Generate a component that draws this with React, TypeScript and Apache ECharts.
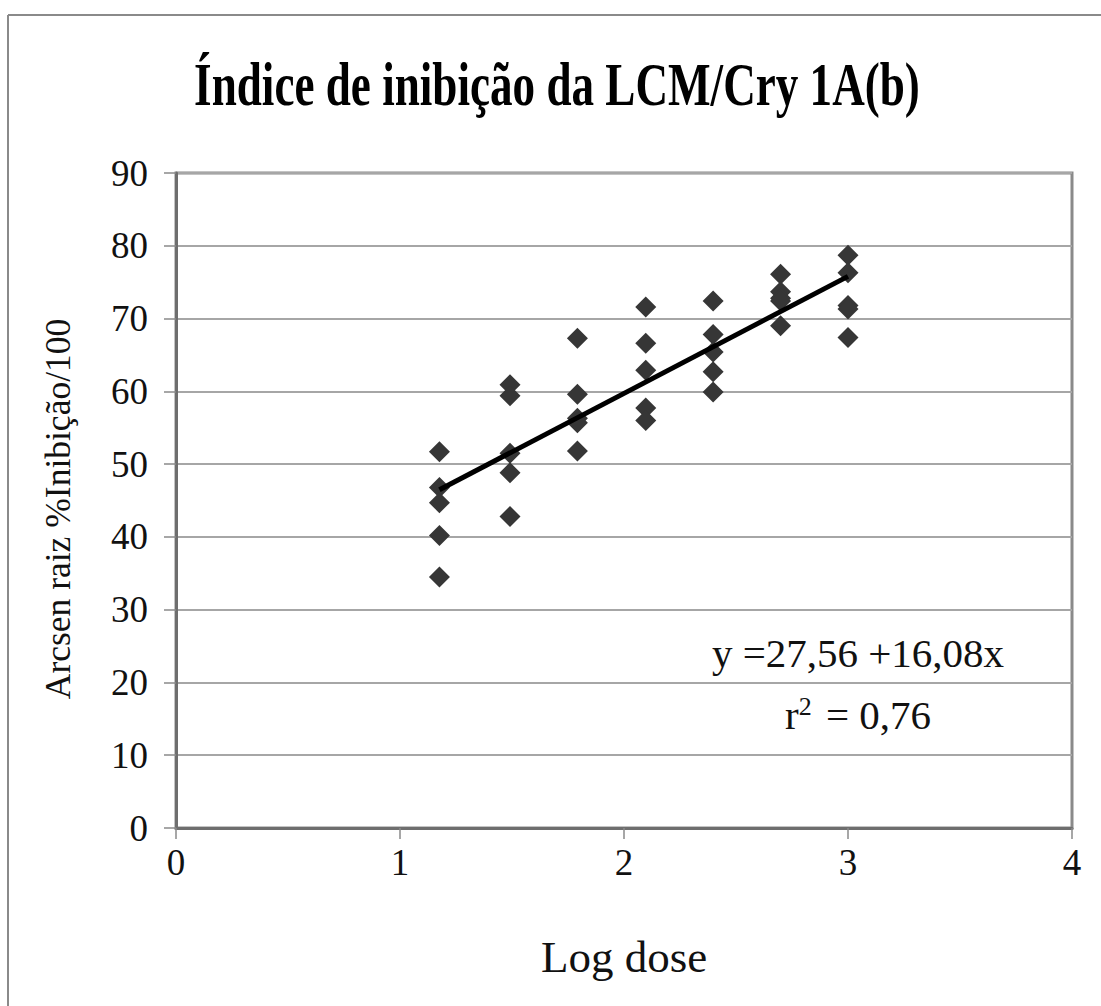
import React, { useEffect, useRef } from "react";
import * as echarts from "echarts";

const titleText = "Índice de inibição da LCM/Cry 1A(b)";
const xAxisName = "Log dose";
const yAxisName = "Arcsen raiz %Inibição/100";

const logDoses = [1.176, 1.491, 1.792, 2.097, 2.398, 2.699, 3.0];
const responses = [
  [51.7, 46.8, 44.7, 40.2, 34.5],
  [60.9, 59.4, 51.5, 48.8, 42.8],
  [67.3, 59.6, 56.3, 55.7, 51.8],
  [71.6, 66.6, 62.9, 57.7, 56.0],
  [72.4, 67.8, 65.4, 62.7, 59.9],
  [76.1, 73.7, 72.8, 72.4, 69.0],
  [78.7, 76.3, 71.8, 71.3, 67.4],
];
const xTicks = [0, 1, 2, 3, 4];
const yTicks = [0, 10, 20, 30, 40, 50, 60, 70, 80, 90];
const intercept = 27.56;
const slope = 16.08;
const equationText = "y =27,56 +16,08x";
const r2Text = "r{sup|2} = 0,76";

const serif = "'Liberation Serif', 'Times New Roman', serif";

export default function App() {
  const ref = useRef<HTMLDivElement>(null);
  useEffect(() => {
    document.body.style.margin = "0";
    if (!ref.current) return;
    const chart = echarts.init(ref.current, null, { renderer: "svg" });
    const points: number[][] = [];
    logDoses.forEach((x, i) => responses[i].forEach((y) => points.push([x, y])));
    const xMin = logDoses[0];
    const xMax = logDoses[logDoses.length - 1];
    const fit = [
      [xMin, intercept + slope * xMin],
      [xMax, intercept + slope * xMax],
    ];
    chart.setOption({
      animation: false,
      backgroundColor: "#ffffff",
      grid: {
        left: 176,
        right: 29,
        top: 173,
        bottom: 178,
        show: true,
        borderColor: "#8a8a8a",
        borderWidth: 3,
      },
      xAxis: {
        type: "value",
        min: xTicks[0],
        max: xTicks[xTicks.length - 1],
        interval: 1,
        name: xAxisName,
        nameLocation: "middle",
        nameGap: 106,
        nameTextStyle: { fontFamily: serif, fontSize: 45, color: "#111" },
        axisLine: { show: true, onZero: false, lineStyle: { color: "#6e6e6e", width: 3 } },
        axisTick: { show: true, length: 11, lineStyle: { color: "#8a8a8a", width: 1.5 } },
        axisLabel: { margin: 16, fontFamily: serif, fontSize: 37, color: "#111" },
        splitLine: { show: false },
      },
      yAxis: {
        type: "value",
        min: yTicks[0],
        max: yTicks[yTicks.length - 1],
        interval: 10,
        axisLine: { show: true, onZero: false, lineStyle: { color: "#6e6e6e", width: 3 } },
        axisTick: { show: true, length: 12, lineStyle: { color: "#8a8a8a", width: 1.5 } },
        axisLabel: { margin: 28, fontFamily: serif, fontSize: 37, color: "#111" },
        splitLine: { show: true, lineStyle: { color: "#a6a6a6", width: 2 } },
      },
      series: [
        {
          type: "scatter",
          data: points,
          symbol: "diamond",
          symbolSize: 21,
          itemStyle: { color: "#363636", opacity: 1 },
          z: 3,
        },
        {
          type: "line",
          data: fit,
          showSymbol: false,
          symbol: "none",
          lineStyle: { color: "#000000", width: 5 },
          z: 4,
        },
      ],
      graphic: [
        {
          type: "line",
          shape: { x1: 8, y1: 15, x2: 1200, y2: 15 },
          style: { stroke: "#8a8a8a", lineWidth: 2 },
        },
        {
          type: "line",
          shape: { x1: 8, y1: 15, x2: 8, y2: 1200 },
          style: { stroke: "#8a8a8a", lineWidth: 2 },
        },
        {
          type: "text",
          x: 557,
          y: 85,
          scaleX: 0.74,
          style: {
            text: titleText,
            fontFamily: serif,
            fontWeight: "bold",
            fontSize: 61,
            fill: "#000",
            textAlign: "center",
            textVerticalAlign: "middle",
          },
        },
        {
          type: "text",
          x: 58,
          y: 509,
          rotation: Math.PI / 2,
          style: {
            text: yAxisName,
            fontFamily: serif,
            fontSize: 35.5,
            fill: "#111",
            textAlign: "center",
            textVerticalAlign: "middle",
          },
        },
        {
          type: "text",
          x: 858,
          y: 653,
          style: {
            text: equationText,
            fontFamily: serif,
            fontSize: 41,
            fill: "#111",
            textAlign: "center",
            textVerticalAlign: "middle",
          },
        },
        {
          type: "text",
          x: 858,
          y: 715,
          style: {
            text: r2Text,
            fontFamily: serif,
            fontSize: 41,
            fill: "#111",
            textAlign: "center",
            textVerticalAlign: "middle",
            rich: {
              sup: {
                fontFamily: serif,
                fontSize: 26,
                fill: "#111",
                verticalAlign: "top",
                padding: [0, 4, 18, 0],
              },
            },
          },
        },
      ],
    });
    return () => chart.dispose();
  }, []);
  return <div ref={ref} style={{ width: 1101, height: 1006 }} />;
}
